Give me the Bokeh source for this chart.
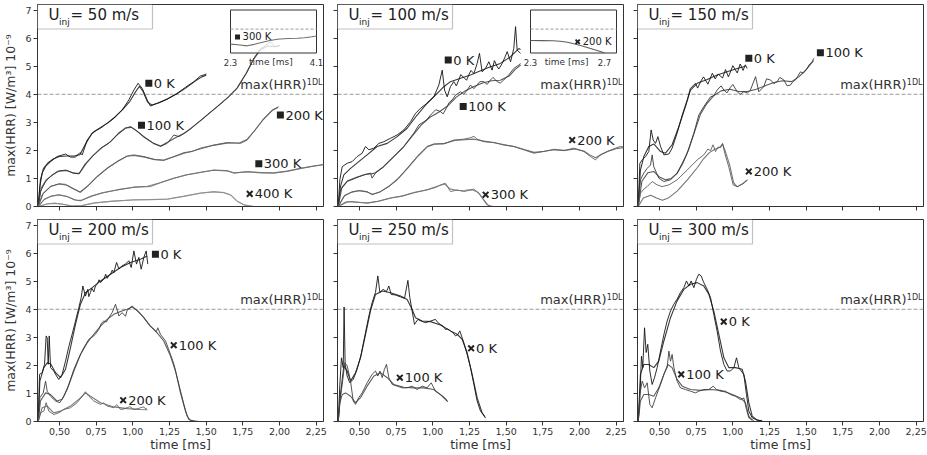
from bokeh.plotting import figure
from bokeh.layouts import row, column
from bokeh.models import (Range1d, Span, BoxAnnotation, Label, FixedTicker,
                          CustomJSTickFormatter)
from bokeh.core.properties import value
from bokeh.embed import file_html
from bokeh.resources import INLINE

FONT = "DejaVu Sans"

# ---------------------------------------------------------------- axes
X_RANGE = (0.35, 2.3)
Y_RANGE = (0.0, 7.2)
X_TICKS = [0.5, 0.75, 1.0, 1.25, 1.5, 1.75, 2.0, 2.25]
Y_TICKS = [0, 1, 2, 3, 4, 5, 6, 7]
HRR_1DL = 4.0
SPEEDS = [50, 100, 150, 200, 250, 300]

# ---------------------------------------------------------------- U = 50 m/s
U50_0K_RAW = [(0.355, 0.0), (0.366, 0.71), (0.382, 1.19), (0.405, 1.42), (0.439, 1.60), (0.484, 1.78),
              (0.541, 1.87), (0.575, 1.76), (0.609, 1.76), (0.639, 1.92), (0.655, 1.84), (0.689, 2.37),
              (0.734, 2.67), (0.780, 2.79), (0.825, 2.97), (0.870, 3.14), (0.927, 3.44), (0.973, 3.80),
              (1.007, 4.15), (1.036, 4.39), (1.064, 4.21), (1.098, 3.80), (1.120, 3.58), (1.166, 3.68),
              (1.234, 3.82), (1.302, 4.03), (1.359, 4.25), (1.416, 4.45), (1.461, 4.65), (1.502, 4.72)]
U50_0K_SMOOTH = [(0.355, 0.0), (0.370, 0.95), (0.390, 1.35), (0.420, 1.55), (0.460, 1.70), (0.500, 1.78),
                 (0.550, 1.80), (0.600, 1.80), (0.640, 1.85), (0.680, 2.25), (0.720, 2.60), (0.780, 2.82),
                 (0.830, 2.98), (0.880, 3.20), (0.930, 3.45), (0.980, 3.75), (1.020, 4.10), (1.045, 4.28),
                 (1.070, 4.10), (1.100, 3.72), (1.130, 3.62), (1.180, 3.70), (1.240, 3.85), (1.300, 4.02),
                 (1.360, 4.22), (1.420, 4.45), (1.470, 4.62), (1.500, 4.68)]
U50_100K_RAW = [(0.355, 0.0), (0.370, 0.53), (0.405, 0.89), (0.439, 1.07), (0.484, 1.25), (0.541, 1.30),
                (0.586, 1.21), (0.632, 1.16), (0.677, 1.54), (0.723, 1.78), (0.780, 2.08), (0.836, 2.25),
                (0.893, 2.55), (0.950, 2.79), (0.984, 2.85), (1.018, 2.73), (1.075, 2.49), (1.143, 2.25),
                (1.189, 2.14), (1.234, 2.25), (1.280, 2.55), (1.314, 2.49), (1.370, 2.67), (1.439, 2.97),
                (1.507, 3.26), (1.575, 3.56), (1.643, 3.86), (1.711, 4.21), (1.780, 4.80), (1.825, 5.28),
                (1.870, 5.63), (1.893, 5.69), (1.938, 5.87), (1.972, 5.69), (2.006, 5.75)]
U50_100K_SMOOTH = [(0.355, 0.0), (0.375, 0.65), (0.410, 0.95), (0.450, 1.12), (0.500, 1.27), (0.550, 1.28),
                   (0.600, 1.18), (0.635, 1.18), (0.680, 1.52), (0.730, 1.82), (0.790, 2.10), (0.850, 2.32),
                   (0.900, 2.60), (0.950, 2.80), (0.990, 2.82), (1.030, 2.68), (1.080, 2.46), (1.140, 2.25),
                   (1.190, 2.16), (1.240, 2.30), (1.290, 2.45), (1.340, 2.58), (1.400, 2.80), (1.460, 3.05),
                   (1.520, 3.32), (1.580, 3.58), (1.650, 3.90), (1.710, 4.22), (1.770, 4.72), (1.820, 5.22),
                   (1.870, 5.58), (1.920, 5.72), (1.960, 5.70), (2.000, 5.72)]
U50_200K_RAW = [(0.355, 0.0), (0.382, 0.42), (0.439, 0.71), (0.495, 0.81), (0.541, 0.79), (0.586, 0.65),
                (0.643, 0.50), (0.689, 0.71), (0.757, 1.07), (0.825, 1.36), (0.893, 1.60), (0.961, 1.80),
                (1.007, 1.84), (1.075, 1.78), (1.143, 1.68), (1.211, 1.64), (1.280, 1.78), (1.348, 1.92),
                (1.404, 1.96), (1.461, 2.08), (1.552, 2.19), (1.643, 2.28), (1.734, 2.25), (1.780, 2.37),
                (1.825, 2.67), (1.893, 3.14), (1.950, 3.44), (1.995, 3.56)]
U50_200K_SMOOTH = [(0.355, 0.0), (0.390, 0.48), (0.440, 0.72), (0.500, 0.80), (0.550, 0.76), (0.600, 0.62),
                   (0.640, 0.52), (0.690, 0.72), (0.760, 1.08), (0.830, 1.38), (0.900, 1.62), (0.960, 1.79),
                   (1.010, 1.82), (1.080, 1.76), (1.150, 1.67), (1.210, 1.66), (1.280, 1.77), (1.350, 1.90),
                   (1.410, 1.98), (1.470, 2.07), (1.550, 2.18), (1.640, 2.26), (1.730, 2.27), (1.780, 2.40),
                   (1.830, 2.70), (1.890, 3.10), (1.950, 3.42), (1.990, 3.53)]
U50_300K_RAW = [(0.355, 0.0), (0.393, 0.24), (0.439, 0.36), (0.495, 0.42), (0.552, 0.36), (0.598, 0.24),
                (0.643, 0.20), (0.711, 0.36), (0.780, 0.47), (0.893, 0.59), (1.007, 0.69), (1.120, 0.71),
                (1.189, 0.85), (1.280, 1.01), (1.370, 1.13), (1.461, 1.21), (1.552, 1.30), (1.643, 1.28),
                (1.689, 1.19), (1.780, 1.25), (1.870, 1.21), (1.961, 1.19), (2.052, 1.25), (2.143, 1.36),
                (2.211, 1.42), (2.279, 1.48), (2.300, 1.50)]
U50_300K_SMOOTH = [(0.355, 0.0), (0.400, 0.27), (0.450, 0.38), (0.500, 0.41), (0.560, 0.34), (0.610, 0.23),
                   (0.650, 0.22), (0.720, 0.37), (0.800, 0.50), (0.900, 0.60), (1.000, 0.68), (1.100, 0.72),
                   (1.180, 0.84), (1.270, 0.99), (1.360, 1.12), (1.460, 1.22), (1.550, 1.29), (1.640, 1.27),
                   (1.690, 1.20), (1.780, 1.23), (1.880, 1.20), (1.960, 1.20), (2.050, 1.26), (2.140, 1.35),
                   (2.220, 1.43), (2.300, 1.49)]
U50_400K_RAW = [(0.355, 0.0), (0.416, 0.09), (0.461, 0.12), (0.518, 0.09), (0.575, 0.02), (0.643, 0.02),
                (0.734, 0.12), (0.848, 0.18), (1.007, 0.24), (1.120, 0.24), (1.234, 0.26), (1.348, 0.36),
                (1.461, 0.47), (1.552, 0.53), (1.620, 0.50), (1.666, 0.42), (1.711, 0.18), (1.757, 0.06),
                (1.825, 0.0), (1.900, 0.0)]
U50_400K_SMOOTH = [(0.355, 0.0), (0.420, 0.10), (0.470, 0.11), (0.530, 0.07), (0.590, 0.02), (0.650, 0.03),
                   (0.740, 0.13), (0.860, 0.19), (1.000, 0.23), (1.120, 0.25), (1.240, 0.27), (1.350, 0.37),
                   (1.460, 0.48), (1.550, 0.52), (1.620, 0.49), (1.670, 0.40), (1.710, 0.20), (1.760, 0.05),
                   (1.820, 0.0)]
U50_300K_LATE = [(2.30, 1.48), (2.45, 1.38), (2.65, 1.20), (2.80, 1.45), (2.93, 1.73), (3.10, 2.05),
                 (3.28, 2.30), (3.50, 2.42), (3.70, 2.46), (3.85, 2.55), (4.01, 2.73), (4.10, 2.85)]

# ---------------------------------------------------------------- U = 100 m/s
U100_0K_RAW = [(0.355, 0.0), (0.366, 0.95), (0.382, 1.42), (0.416, 1.54), (0.450, 1.60), (0.484, 1.78),
               (0.518, 1.90), (0.541, 2.14), (0.564, 2.02), (0.598, 2.08), (0.632, 2.25), (0.666, 2.31),
               (0.711, 2.43), (0.757, 2.55), (0.802, 2.73), (0.848, 3.02), (0.882, 3.32), (0.916, 3.50),
               (0.961, 3.68), (1.007, 3.91), (1.041, 4.33), (1.064, 4.86), (1.080, 4.15), (1.098, 3.91),
               (1.120, 4.27), (1.143, 4.45), (1.160, 4.30), (1.177, 4.51), (1.190, 4.70), (1.211, 4.60),
               (1.230, 4.50), (1.245, 4.69), (1.260, 4.85), (1.280, 4.74), (1.302, 5.10), (1.318, 5.46),
               (1.336, 4.80), (1.359, 4.92), (1.382, 5.16), (1.404, 4.86), (1.420, 5.20), (1.439, 4.98),
               (1.450, 4.90), (1.473, 5.10), (1.490, 5.30), (1.507, 5.52), (1.530, 5.16), (1.552, 5.63),
               (1.564, 6.41), (1.575, 5.57), (1.598, 5.46)]
U100_0K_SMOOTH = [(0.355, 0.0), (0.370, 0.71), (0.393, 1.13), (0.439, 1.36), (0.495, 1.60), (0.552, 1.84),
                  (0.620, 2.14), (0.689, 2.25), (0.757, 2.49), (0.825, 2.79), (0.893, 3.26), (0.961, 3.68),
                  (1.030, 4.03), (1.075, 4.27), (1.120, 4.45), (1.189, 4.57), (1.257, 4.69), (1.325, 4.84),
                  (1.393, 4.98), (1.461, 5.10), (1.530, 5.34), (1.586, 5.63), (1.598, 5.60)]
U100_100K_RAW = [(0.355, 0.0), (0.370, 0.59), (0.416, 0.89), (0.473, 1.01), (0.530, 1.13), (0.575, 1.19),
                 (0.586, 1.01), (0.609, 1.19), (0.666, 1.42), (0.734, 1.78), (0.802, 2.14), (0.870, 2.61),
                 (0.905, 2.91), (0.939, 3.02), (0.960, 3.10), (0.984, 3.26), (1.020, 3.45), (1.052, 3.38),
                 (1.070, 3.30), (1.098, 3.56), (1.110, 3.70), (1.132, 3.80), (1.155, 3.97), (1.189, 4.09),
                 (1.210, 4.00), (1.234, 4.15), (1.257, 4.33), (1.280, 4.20), (1.302, 4.33), (1.320, 4.45),
                 (1.348, 4.45), (1.370, 4.35), (1.393, 4.51), (1.410, 4.60), (1.439, 4.45), (1.460, 4.40),
                 (1.484, 4.51), (1.518, 4.69), (1.552, 4.92), (1.586, 5.04), (1.598, 5.10)]
U100_100K_SMOOTH = [(0.355, 0.0), (0.380, 0.68), (0.420, 0.92), (0.480, 1.04), (0.540, 1.14), (0.600, 1.18),
                    (0.660, 1.40), (0.730, 1.76), (0.800, 2.12), (0.870, 2.58), (0.920, 2.90), (0.980, 3.18),
                    (1.040, 3.36), (1.100, 3.58), (1.160, 3.90), (1.220, 4.12), (1.280, 4.28), (1.340, 4.40),
                    (1.400, 4.48), (1.460, 4.50), (1.520, 4.65), (1.560, 4.88), (1.600, 5.05)]
U100_200K_RAW = [(0.355, 0.0), (0.393, 0.36), (0.439, 0.50), (0.495, 0.57), (0.552, 0.53), (0.586, 0.42),
                 (0.643, 0.53), (0.700, 0.71), (0.757, 0.95), (0.825, 1.36), (0.893, 1.78), (0.961, 2.14),
                 (1.007, 2.23), (1.075, 2.23), (1.143, 2.37), (1.211, 2.40), (1.257, 2.45), (1.280, 2.50),
                 (1.302, 2.40), (1.348, 2.31), (1.416, 2.28), (1.484, 2.19), (1.552, 2.14), (1.620, 2.02),
                 (1.689, 1.90), (1.757, 1.96), (1.825, 2.04), (1.893, 1.99), (1.961, 2.08), (2.030, 1.96),
                 (2.075, 1.78), (2.109, 1.66), (2.143, 1.84), (2.189, 1.96), (2.245, 2.08), (2.279, 2.14),
                 (2.300, 2.12)]
U100_200K_SMOOTH = [(0.355, 0.0), (0.400, 0.40), (0.450, 0.52), (0.500, 0.56), (0.550, 0.52), (0.590, 0.44),
                    (0.640, 0.52), (0.700, 0.72), (0.760, 0.98), (0.830, 1.38), (0.900, 1.80), (0.960, 2.12),
                    (1.010, 2.22), (1.080, 2.25), (1.150, 2.35), (1.220, 2.38), (1.280, 2.40), (1.350, 2.33),
                    (1.420, 2.27), (1.490, 2.20), (1.560, 2.13), (1.630, 2.02), (1.690, 1.93), (1.760, 1.97),
                    (1.830, 2.02), (1.900, 2.00), (1.970, 2.05), (2.030, 1.98), (2.070, 1.84), (2.110, 1.74),
                    (2.150, 1.86), (2.200, 1.98), (2.250, 2.06), (2.300, 2.10)]
U100_300K_RAW = [(0.355, 0.0), (0.400, 0.15), (0.439, 0.18), (0.500, 0.15), (0.552, 0.12), (0.620, 0.18),
                 (0.711, 0.30), (0.780, 0.36), (0.870, 0.50), (0.961, 0.59), (1.020, 0.68), (1.052, 0.77),
                 (1.086, 0.83), (1.120, 0.53), (1.166, 0.59), (1.211, 0.53), (1.280, 0.62), (1.314, 0.47),
                 (1.348, 0.24), (1.382, 0.02), (1.416, 0.0)]
U100_300K_SMOOTH = [(0.355, 0.0), (0.420, 0.17), (0.500, 0.14), (0.560, 0.13), (0.630, 0.19), (0.720, 0.31),
                    (0.800, 0.38), (0.880, 0.50), (0.960, 0.60), (1.030, 0.72), (1.080, 0.80), (1.120, 0.62),
                    (1.170, 0.57), (1.220, 0.58), (1.270, 0.60), (1.310, 0.50), (1.340, 0.28), (1.370, 0.06),
                    (1.400, 0.0)]
U100_200K_LATE = [(2.30, 2.10), (2.36, 2.08), (2.42, 2.04), (2.46, 1.98), (2.50, 1.80), (2.54, 1.52),
                  (2.58, 1.18), (2.62, 0.80), (2.66, 0.42), (2.69, 0.12), (2.70, 0.0)]

# ---------------------------------------------------------------- U = 150 m/s
U150_0K_RAW = [(0.355, 0.0), (0.366, 1.54), (0.382, 1.66), (0.405, 1.78), (0.427, 1.96), (0.443, 2.73),
               (0.457, 2.37), (0.473, 2.25), (0.489, 2.49), (0.507, 2.14), (0.530, 1.84), (0.564, 1.87),
               (0.586, 2.08), (0.620, 2.61), (0.655, 3.26), (0.689, 3.80), (0.711, 4.21), (0.745, 4.39),
               (0.760, 4.22), (0.780, 4.45), (0.800, 4.62), (0.830, 4.36), (0.860, 4.75), (0.880, 4.55),
               (0.900, 4.72), (0.930, 4.58), (0.950, 4.88), (0.970, 4.62), (1.000, 5.02), (1.030, 4.76),
               (1.050, 5.08), (1.070, 4.85), (1.085, 5.05), (1.098, 4.92)]
U150_0K_SMOOTH = [(0.355, 0.0), (0.370, 1.30), (0.393, 1.78), (0.427, 2.14), (0.461, 2.23), (0.507, 1.96),
                  (0.541, 1.90), (0.586, 2.20), (0.632, 2.85), (0.677, 3.56), (0.711, 4.15), (0.757, 4.39),
                  (0.825, 4.53), (0.893, 4.69), (0.961, 4.80), (1.030, 4.92), (1.086, 5.00)]
U150_100K_RAW = [(0.355, 0.0), (0.370, 0.95), (0.393, 1.19), (0.416, 1.36), (0.439, 1.48), (0.450, 1.84),
                 (0.461, 1.42), (0.495, 1.01), (0.530, 0.89), (0.575, 0.95), (0.620, 1.19), (0.655, 1.54),
                 (0.689, 1.90), (0.734, 2.61), (0.768, 3.26), (0.802, 3.56), (0.848, 3.91), (0.870, 3.95),
                 (0.893, 4.15), (0.920, 4.30), (0.939, 4.15), (0.960, 4.05), (0.984, 4.25), (1.000, 4.35),
                 (1.030, 4.09), (1.050, 4.00), (1.075, 4.09), (1.100, 4.05), (1.120, 4.15), (1.155, 4.63),
                 (1.177, 4.09), (1.211, 4.27), (1.230, 4.55), (1.257, 4.51), (1.280, 4.38), (1.302, 4.45),
                 (1.320, 4.60), (1.348, 4.51), (1.370, 4.30), (1.393, 4.33), (1.410, 4.45), (1.427, 4.51),
                 (1.440, 4.62), (1.461, 4.80), (1.480, 4.75), (1.507, 4.92), (1.520, 5.05), (1.541, 5.16),
                 (1.552, 5.28)]
U150_100K_SMOOTH = [(0.355, 0.0), (0.380, 0.90), (0.420, 1.20), (0.460, 1.25), (0.500, 1.05), (0.540, 0.95),
                    (0.580, 1.00), (0.620, 1.18), (0.660, 1.55), (0.700, 2.05), (0.740, 2.68), (0.780, 3.30),
                    (0.820, 3.65), (0.870, 3.95), (0.920, 4.12), (0.980, 4.18), (1.040, 4.10), (1.100, 4.10),
                    (1.160, 4.18), (1.220, 4.30), (1.280, 4.42), (1.340, 4.48), (1.400, 4.45), (1.450, 4.62),
                    (1.500, 4.88), (1.550, 5.20)]
U150_200K_RAW = [(0.355, 0.0), (0.370, 0.47), (0.393, 0.62), (0.416, 0.71), (0.450, 0.89), (0.484, 0.77),
                 (0.518, 0.71), (0.564, 0.77), (0.620, 0.95), (0.689, 1.30), (0.757, 1.66), (0.802, 1.84),
                 (0.830, 2.05), (0.848, 1.99), (0.865, 2.20), (0.882, 1.96), (0.900, 2.12), (0.916, 2.10),
                 (0.930, 2.25), (0.945, 1.90), (0.973, 1.40), (1.002, 0.77), (1.030, 0.71), (1.064, 0.80),
                 (1.098, 0.95)]
U150_200K_SMOOTH = [(0.355, 0.0), (0.390, 0.30), (0.440, 0.40), (0.480, 0.30), (0.520, 0.22), (0.560, 0.30),
                    (0.620, 0.55), (0.690, 0.95), (0.760, 1.40), (0.800, 1.70), (0.840, 1.92), (0.880, 2.05),
                    (0.910, 2.10), (0.930, 2.22), (0.950, 1.95), (0.980, 1.45), (1.005, 0.85), (1.030, 0.70),
                    (1.070, 0.82), (1.100, 0.95)]

# ---------------------------------------------------------------- U = 200 m/s
U200_0K_RAW = [(0.355, 0.0), (0.364, 1.68), (0.382, 1.74), (0.398, 2.04), (0.409, 3.05), (0.416, 2.99),
               (0.423, 2.04), (0.430, 3.05), (0.439, 1.92), (0.461, 1.80), (0.480, 1.62), (0.495, 1.50),
               (0.518, 1.68), (0.541, 2.15), (0.564, 2.68), (0.586, 3.11), (0.609, 3.58), (0.632, 4.06),
               (0.648, 4.42), (0.659, 4.83), (0.677, 4.47), (0.693, 4.71), (0.700, 4.45), (0.711, 4.60),
               (0.720, 4.75), (0.734, 4.62), (0.745, 4.83), (0.757, 4.89), (0.770, 5.05), (0.780, 4.95),
               (0.790, 5.01), (0.802, 5.07), (0.815, 5.25), (0.825, 5.10), (0.835, 5.19), (0.848, 5.25),
               (0.860, 5.40), (0.870, 5.30), (0.889, 5.67), (0.905, 5.44), (0.927, 5.55), (0.950, 5.61),
               (0.973, 5.73), (0.989, 5.49), (1.007, 6.08), (1.025, 5.61), (1.041, 5.85), (1.057, 5.43),
               (1.075, 5.85), (1.091, 6.08), (1.102, 5.61)]
U200_0K_SMOOTH = [(0.355, 0.0), (0.366, 1.44), (0.393, 1.92), (0.416, 2.09), (0.439, 2.06), (0.473, 1.74),
                  (0.507, 1.56), (0.541, 1.86), (0.575, 2.63), (0.609, 3.46), (0.643, 4.18), (0.677, 4.59),
                  (0.723, 4.77), (0.780, 5.01), (0.848, 5.25), (0.916, 5.49), (0.984, 5.67), (1.052, 5.78),
                  (1.098, 5.90)]
U200_100K_RAW = [(0.355, 0.0), (0.366, 0.85), (0.389, 1.02), (0.405, 1.44), (0.416, 1.08), (0.439, 0.90),
                 (0.473, 0.73), (0.502, 0.67), (0.530, 0.90), (0.564, 1.32), (0.598, 1.86), (0.632, 2.27),
                 (0.666, 2.63), (0.700, 2.93), (0.734, 3.05), (0.750, 3.15), (0.768, 3.28), (0.785, 3.50),
                 (0.802, 3.58), (0.820, 3.55), (0.836, 3.70), (0.859, 3.88), (0.882, 4.18), (0.905, 3.76),
                 (0.927, 3.88), (0.950, 3.75), (0.961, 3.96), (0.980, 4.05), (0.995, 4.12), (1.030, 3.94),
                 (1.050, 3.85), (1.075, 3.70), (1.109, 3.46), (1.143, 3.28), (1.160, 3.20), (1.170, 3.34),
                 (1.189, 3.10), (1.223, 2.87), (1.257, 2.39), (1.280, 2.04), (1.314, 1.32), (1.348, 0.61),
                 (1.370, 0.19), (1.393, 0.04), (1.450, 0.0)]
U200_100K_SMOOTH = [(0.355, 0.0), (0.370, 0.73), (0.405, 1.02), (0.439, 0.96), (0.484, 0.73), (0.518, 0.79),
                    (0.552, 1.14), (0.598, 1.80), (0.643, 2.39), (0.689, 2.81), (0.734, 3.11), (0.780, 3.40),
                    (0.825, 3.64), (0.870, 3.82), (0.916, 3.92), (0.961, 4.00), (0.995, 4.08), (1.030, 3.96),
                    (1.075, 3.70), (1.120, 3.40), (1.166, 3.16), (1.211, 2.87), (1.257, 2.33), (1.291, 1.80),
                    (1.325, 1.02), (1.359, 0.37), (1.382, 0.07), (1.416, 0.01)]
U200_200K_RAW = [(0.355, 0.0), (0.370, 0.31), (0.393, 0.37), (0.409, 0.67), (0.427, 0.37), (0.461, 0.25),
                 (0.495, 0.31), (0.530, 0.43), (0.575, 0.49), (0.620, 0.67), (0.655, 0.90), (0.677, 1.06),
                 (0.700, 0.90), (0.734, 0.73), (0.780, 0.61), (0.800, 0.66), (0.825, 0.55), (0.850, 0.52),
                 (0.870, 0.49), (0.890, 0.60), (0.916, 0.43), (0.940, 0.45), (0.961, 0.49), (0.980, 0.53),
                 (1.007, 0.43), (1.030, 0.45), (1.052, 0.49), (1.070, 0.52), (1.098, 0.43)]
U200_200K_SMOOTH = [(0.355, 0.0), (0.382, 0.49), (0.416, 0.55), (0.461, 0.31), (0.507, 0.37), (0.575, 0.55),
                    (0.643, 0.84), (0.677, 1.02), (0.711, 0.90), (0.780, 0.67), (0.870, 0.52), (0.961, 0.46),
                    (1.052, 0.43), (1.098, 0.42)]

# ---------------------------------------------------------------- U = 250 m/s
U250_0K_RAW = [(0.355, 0.0), (0.366, 1.32), (0.377, 2.27), (0.389, 1.92), (0.395, 4.08), (0.402, 2.04),
               (0.416, 1.62), (0.434, 1.38), (0.457, 1.50), (0.484, 1.86), (0.511, 2.39), (0.541, 3.17),
               (0.564, 3.76), (0.586, 4.24), (0.609, 4.60), (0.625, 5.19), (0.639, 4.60), (0.661, 4.71),
               (0.684, 4.63), (0.700, 4.83), (0.716, 4.53), (0.745, 4.51), (0.780, 4.44), (0.807, 4.39),
               (0.830, 5.03), (0.843, 4.42), (0.859, 3.94), (0.875, 3.46), (0.898, 3.64), (0.920, 3.58),
               (0.950, 3.52), (0.984, 3.58), (1.018, 3.64), (1.035, 3.52), (1.052, 3.46), (1.070, 3.40),
               (1.086, 3.28), (1.100, 3.30), (1.120, 3.23), (1.140, 3.15), (1.155, 3.05), (1.170, 3.10),
               (1.184, 3.23), (1.211, 2.81), (1.234, 2.39), (1.257, 1.92), (1.280, 1.32), (1.302, 0.73),
               (1.325, 0.37), (1.352, 0.19)]
U250_0K_SMOOTH = [(0.355, 0.0), (0.370, 0.96), (0.393, 1.97), (0.416, 1.80), (0.439, 1.44), (0.473, 1.74),
                  (0.507, 2.27), (0.541, 3.10), (0.575, 3.94), (0.609, 4.53), (0.655, 4.65), (0.711, 4.59),
                  (0.780, 4.47), (0.825, 4.35), (0.859, 3.99), (0.882, 3.70), (0.927, 3.58), (0.984, 3.56),
                  (1.052, 3.44), (1.120, 3.23), (1.166, 3.11), (1.200, 2.93), (1.234, 2.45), (1.268, 1.68),
                  (1.302, 0.85), (1.336, 0.31), (1.359, 0.13)]
U250_100K_RAW = [(0.355, 0.0), (0.366, 0.73), (0.382, 1.32), (0.400, 2.10), (0.416, 1.98), (0.439, 1.44),
                 (0.457, 0.73), (0.473, 0.61), (0.495, 0.85), (0.518, 1.02), (0.552, 1.38), (0.586, 1.68),
                 (0.609, 1.80), (0.625, 1.62), (0.639, 1.80), (0.655, 1.56), (0.670, 1.86), (0.684, 2.04),
                 (0.700, 1.56), (0.723, 1.32), (0.757, 1.26), (0.791, 1.20), (0.825, 1.20), (0.859, 1.26),
                 (0.893, 1.14), (0.927, 1.26), (0.961, 1.20), (0.989, 1.38), (1.018, 1.08), (1.052, 0.96),
                 (1.080, 0.85), (1.102, 0.70)]
U250_100K_SMOOTH = [(0.355, 0.0), (0.366, 0.67), (0.382, 0.96), (0.405, 1.02), (0.439, 0.90), (0.473, 0.67),
                    (0.507, 0.85), (0.552, 1.26), (0.598, 1.62), (0.643, 1.74), (0.689, 1.56), (0.734, 1.32),
                    (0.802, 1.22), (0.870, 1.20), (0.939, 1.20), (1.007, 1.14), (1.052, 0.96), (1.098, 0.73)]

# ---------------------------------------------------------------- U = 300 m/s
U300_0K_RAW = [(0.355, 0.0), (0.366, 0.84), (0.377, 2.33), (0.386, 1.92), (0.398, 3.34), (0.409, 2.46),
               (0.420, 2.75), (0.434, 1.80), (0.450, 1.32), (0.466, 1.56), (0.484, 1.92), (0.507, 2.51),
               (0.530, 3.10), (0.552, 3.58), (0.575, 3.94), (0.598, 4.18), (0.620, 4.36), (0.643, 4.60),
               (0.666, 4.77), (0.684, 5.01), (0.700, 4.83), (0.716, 5.01), (0.734, 4.77), (0.752, 5.07),
               (0.768, 5.25), (0.784, 5.19), (0.802, 4.95), (0.825, 4.71), (0.848, 4.42), (0.870, 3.82),
               (0.893, 3.22), (0.916, 2.51), (0.939, 2.03), (0.961, 1.80), (0.984, 1.80), (1.007, 1.92),
               (1.025, 2.27), (1.041, 1.92), (1.057, 1.80), (1.075, 1.68), (1.093, 0.96), (1.109, 0.37),
               (1.132, 0.13), (1.166, 0.05), (1.200, 0.03)]
U300_0K_SMOOTH = [(0.355, 0.0), (0.370, 1.68), (0.393, 2.03), (0.427, 2.03), (0.461, 1.92), (0.495, 2.15),
                  (0.530, 2.87), (0.575, 3.70), (0.620, 4.30), (0.666, 4.71), (0.711, 4.89), (0.757, 4.95),
                  (0.802, 4.83), (0.836, 4.54), (0.870, 3.94), (0.905, 3.10), (0.939, 2.27), (0.973, 1.92),
                  (1.018, 1.92), (1.064, 1.86), (1.086, 1.44), (1.109, 0.67), (1.132, 0.19), (1.166, 0.05),
                  (1.200, 0.01)]
U300_100K_RAW = [(0.355, 0.0), (0.366, 0.96), (0.382, 1.44), (0.398, 1.20), (0.416, 1.38), (0.434, 0.61),
                 (0.450, 0.49), (0.473, 0.84), (0.507, 1.32), (0.534, 1.74), (0.552, 1.92), (0.564, 2.51),
                 (0.575, 2.15), (0.586, 2.39), (0.598, 1.92), (0.620, 1.44), (0.643, 1.20), (0.677, 1.14),
                 (0.711, 1.08), (0.745, 1.02), (0.768, 1.08), (0.802, 1.14), (0.836, 1.14), (0.866, 1.26),
                 (0.889, 1.14), (0.916, 1.08), (0.950, 1.08), (0.984, 0.96), (1.018, 0.90), (1.052, 0.78),
                 (1.075, 0.84), (1.093, 0.43), (1.109, 0.13), (1.143, 0.03)]
U300_100K_SMOOTH = [(0.355, 0.0), (0.370, 0.73), (0.393, 0.96), (0.427, 0.96), (0.461, 0.90), (0.495, 1.20),
                    (0.530, 1.68), (0.557, 2.03), (0.586, 1.92), (0.620, 1.50), (0.655, 1.26), (0.711, 1.14),
                    (0.780, 1.11), (0.848, 1.14), (0.916, 1.11), (0.984, 0.99), (1.052, 0.84), (1.086, 0.67),
                    (1.109, 0.19), (1.132, 0.04)]

# ---------------------------------------------------------------- curve tags (t, value, marker, text)
U50_TAGS = [(1.109, 4.39, "square", "0 K"), (1.059, 2.90, "square", "100 K"),
            (2.006, 3.26, "square", "200 K"), (1.859, 1.52, "square", "300 K"),
            (1.797, 0.45, "x", "400 K")]
U100_TAGS = [(1.105, 5.22, "square", "0 K"), (1.207, 3.56, "square", "100 K"),
             (1.950, 2.37, "x", "200 K"), (1.360, 0.42, "x", "300 K")]
U150_TAGS = [(1.109, 5.28, "square", "0 K"), (1.597, 5.48, "square", "100 K"),
             (1.109, 1.25, "x", "200 K")]
U200_TAGS = [(1.154, 5.96, "square", "0 K"), (1.279, 2.72, "x", "100 K"),
             (0.934, 0.76, "x", "200 K")]
U250_TAGS = [(1.261, 2.61, "x", "0 K"), (0.775, 1.56, "x", "100 K")]
U300_TAGS = [(0.938, 3.56, "x", "0 K"), (0.648, 1.68, "x", "100 K")]

# ---------------------------------------------------------------- styling
TOP_COLORS = {"0 K": "#151515", "100 K": "#3a3a3a", "200 K": "#5c5c5c",
              "300 K": "#6e6e6e", "400 K": "#8c8c8c"}
BOTTOM_COLORS = {"0 K": "#151515", "100 K": "#3f3f3f", "200 K": "#5f5f5f"}
INK = "#222222"
SPINE = "#333333"

FRAME_W, FRAME_H = 286, 202
PX_X = FRAME_W / (X_RANGE[1] - X_RANGE[0])
PX_Y = FRAME_H / (Y_RANGE[1] - Y_RANGE[0])

DECIMAL_COMMA = CustomJSTickFormatter(code="return tick.toFixed(2).replace('.', ',');")
NO_LABEL = CustomJSTickFormatter(code="return '';")


def fx(px):
    """time at a pixel offset from the left of a frame"""
    return X_RANGE[0] + px / PX_X


def fy(px):
    """value at a pixel offset down from the top of a frame"""
    return Y_RANGE[1] - px / PX_Y


def unzip(pairs):
    return [a for a, _ in pairs], [b for _, b in pairs]


PANELS = [
    dict(speed=50, tags=U50_TAGS, curves=[
        ("0 K", U50_0K_RAW, U50_0K_SMOOTH), ("100 K", U50_100K_RAW, U50_100K_SMOOTH),
        ("200 K", U50_200K_RAW, U50_200K_SMOOTH), ("300 K", U50_300K_RAW, U50_300K_SMOOTH),
        ("400 K", U50_400K_RAW, U50_400K_SMOOTH)],
        inset=dict(xr=(2.3, 4.1), ticks=[2.3, 4.1], label_at=0.47, curve=("300 K", U50_300K_LATE),
                   tag=(2.447, 2.68, "square", "300 K"))),
    dict(speed=100, tags=U100_TAGS, curves=[
        ("0 K", U100_0K_RAW, U100_0K_SMOOTH), ("100 K", U100_100K_RAW, U100_100K_SMOOTH),
        ("200 K", U100_200K_RAW, U100_200K_SMOOTH), ("300 K", U100_300K_RAW, U100_300K_SMOOTH)],
        inset=dict(xr=(2.3, 2.765), ticks=[2.3, 2.7], label_at=0.42, curve=("200 K", U100_200K_LATE),
                   tag=(2.555, 1.89, "x", "200 K"))),
    dict(speed=150, tags=U150_TAGS, curves=[
        ("0 K", U150_0K_RAW, U150_0K_SMOOTH), ("100 K", U150_100K_RAW, U150_100K_SMOOTH),
        ("200 K", U150_200K_RAW, U150_200K_SMOOTH)], inset=None),
    dict(speed=200, tags=U200_TAGS, curves=[
        ("0 K", U200_0K_RAW, U200_0K_SMOOTH), ("100 K", U200_100K_RAW, U200_100K_SMOOTH),
        ("200 K", U200_200K_RAW, U200_200K_SMOOTH)], inset=None),
    dict(speed=250, tags=U250_TAGS, curves=[
        ("0 K", U250_0K_RAW, U250_0K_SMOOTH), ("100 K", U250_100K_RAW, U250_100K_SMOOTH)], inset=None),
    dict(speed=300, tags=U300_TAGS, curves=[
        ("0 K", U300_0K_RAW, U300_0K_SMOOTH), ("100 K", U300_100K_RAW, U300_100K_SMOOTH)], inset=None),
]


def draw_tag(api, t, v, marker, text, size_px, font_px):
    if marker == "square":
        api.scatter([t], [v], marker="square", size=size_px, fill_color=INK, line_color=None)
    else:
        api.scatter([t], [v], marker="x", size=size_px + 1, line_color=INK, line_width=2)
    api.text([t], [v], text=[text], x_offset=5, text_baseline="middle",
             text_font=value(FONT), text_font_size=f"{font_px}px", text_color=INK)


def hide_labels(ax):
    ax.formatter = NO_LABEL
    ax.major_label_text_font_size = "1px"
    ax.major_label_standoff = 0


def make_panel(r, c, spec):
    left = 37 if c == 0 else 7
    right = 4 if c == 2 else 7
    top = 4 if r == 0 else 7
    bottom = 6 if r == 0 else 34
    p = figure(width=left + FRAME_W + right, height=top + FRAME_H + bottom,
               x_range=Range1d(*X_RANGE), y_range=Range1d(*Y_RANGE),
               output_backend="svg", toolbar_location=None, title=None,
               min_border_left=left, min_border_right=right,
               min_border_top=top, min_border_bottom=bottom)
    p.background_fill_color = "white"
    p.border_fill_color = "white"
    p.outline_line_color = SPINE
    p.outline_line_width = 1
    p.xgrid.visible = False
    p.ygrid.visible = False

    xa, ya = p.xaxis[0], p.yaxis[0]
    xa.ticker = FixedTicker(ticks=X_TICKS)
    ya.ticker = FixedTicker(ticks=Y_TICKS)
    xa.formatter = DECIMAL_COMMA
    for ax in (xa, ya):
        ax.axis_line_color = SPINE
        ax.major_tick_line_color = SPINE
        ax.major_tick_out = 4
        ax.major_tick_in = 0
        ax.minor_tick_line_color = None
        ax.major_label_text_font = FONT
        ax.major_label_text_font_size = "9.5px"
        ax.major_label_text_color = "#333333"
        ax.major_label_standoff = 2
        ax.axis_label_text_font = FONT
        ax.axis_label_text_font_style = "normal"
        ax.axis_label_text_font_size = "12.5px"
        ax.axis_label_text_color = "#333333"
    if r == 0:
        hide_labels(xa)
    else:
        xa.axis_label = "time [ms]"
        xa.axis_label_standoff = -1
    if c != 0:
        hide_labels(ya)
    else:
        ya.axis_label = "max(HRR) [W/m³] 10⁻⁹"
        ya.axis_label_standoff = 4

    # one-dimensional reference level
    p.add_layout(Span(location=HRR_1DL, dimension="width", line_color="#9a9a9a",
                      line_dash="4 2", line_width=1, level="underlay"))

    colors = TOP_COLORS if r == 0 else BOTTOM_COLORS
    for name, raw, smooth in spec["curves"]:
        tr, vr = unzip(raw)
        ts, vs = unzip(smooth)
        p.line(ts, vs, line_color=colors[name], line_width=1.1, line_alpha=0.85)
        p.line(tr, vr, line_color=colors[name], line_width=0.9)

    for t, v, mk, txt in spec["tags"]:
        draw_tag(p, t, v, mk, txt, 7, 13)

    # late-time inset
    ins = spec["inset"]
    if ins is not None:
        ix0, ix1 = fx(193), fx(279)
        iy1, iy0 = fy(5.5), fy(48.5)
        p.quad(left=[ix0], right=[ix1], bottom=[iy0], top=[iy1], fill_color="white",
               fill_alpha=0.78, line_color=SPINE, line_width=1)
        sub = p.subplot(x_source=Range1d(*ins["xr"]), y_source=Range1d(*Y_RANGE),
                        x_target=Range1d(ix0, ix1), y_target=Range1d(iy0, iy1))
        sub.line(list(ins["xr"]), [HRR_1DL, HRR_1DL], line_color="#9a9a9a",
                 line_dash="3 2", line_width=1)
        name, late = ins["curve"]
        tl, vl = unzip(late)
        sub.line(tl, vl, line_color=colors[name], line_width=1.1)
        t, v, mk, txt = ins["tag"]
        draw_tag(sub, t, v, mk, txt, 5, 10)
        sub.text(ins["ticks"], [Y_RANGE[0]] * 2, text=[f"{k:.1f}" for k in ins["ticks"]],
                 text_align="center", text_baseline="middle", y_offset=9,
                 text_font=value(FONT), text_font_size="8.5px", text_color="#333333")
        mid = ins["xr"][0] + ins["label_at"] * (ins["xr"][1] - ins["xr"][0])
        sub.text([mid], [Y_RANGE[0]], text=["time [ms]"], text_align="center",
                 text_baseline="middle", y_offset=9, text_font=value(FONT),
                 text_font_size="9px", text_color="#333333")

    # speed box
    p.add_layout(BoxAnnotation(left=fx(0), right=fx(115), top=fy(0), bottom=fy(24.5),
                               fill_color="white", fill_alpha=1.0,
                               line_color=SPINE, line_width=1.2))
    p.add_layout(Label(x=fx(11), y=fy(19), text="U", text_font=FONT,
                       text_font_size="15px", text_color=INK))
    p.add_layout(Label(x=fx(21.5), y=fy(22.5), text="inj", text_font=FONT,
                       text_font_size="9px", text_color=INK))
    p.add_layout(Label(x=fx(33), y=fy(19), text=f"= {spec['speed']} m/s", text_font=FONT,
                       text_font_size="15px", text_color=INK))

    # label of the reference level
    p.add_layout(Label(x=fx(FRAME_W - 17), y=HRR_1DL + 2 / PX_Y, text="max(HRR)",
                       text_align="right", text_font=FONT, text_font_size="13px",
                       text_color="#333333"))
    p.add_layout(Label(x=fx(FRAME_W - 1), y=HRR_1DL + 7 / PX_Y, text="1DL",
                       text_align="right", text_font=FONT, text_font_size="8px",
                       text_color="#333333"))
    return p


figs = [make_panel(i // 3, i % 3, spec) for i, spec in enumerate(PANELS)]
layout = column(row(*figs[:3]), row(*figs[3:]))

open("out.html", "w").write(file_html(layout, INLINE))
